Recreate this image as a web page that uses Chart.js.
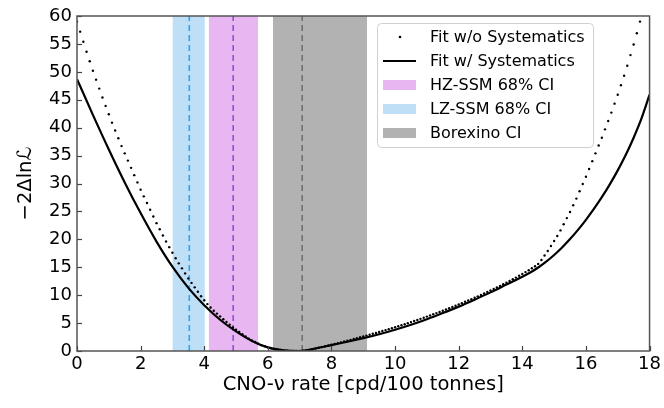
<!DOCTYPE html>
<html>
<head>
<meta charset="utf-8">
<script src="https://cdn.jsdelivr.net/npm/chart.js@4.4.0/dist/chart.umd.min.js"></script>
<style>
  html, body { margin: 0; padding: 0; background: #fff; }
  #wrap { width: 664px; height: 408px; position: relative; }
</style>
</head>
<body>
<div id="wrap"><canvas id="chart" width="664" height="408"></canvas></div>
<script>
// Fit w/o systematics: dots every 0.1 in rate
const noSystX = [
  0.0, 0.1, 0.2, 0.3, 0.4, 0.5, 0.6, 0.7, 0.8, 0.9,
  1.0, 1.1, 1.2, 1.3, 1.4, 1.5, 1.6, 1.7, 1.8, 1.9,
  2.0, 2.1, 2.2, 2.3, 2.4, 2.5, 2.6, 2.7, 2.8, 2.9,
  3.0, 3.1, 3.2, 3.3, 3.4, 3.5, 3.6, 3.7, 3.8, 3.9,
  4.0, 4.1, 4.2, 4.3, 4.4, 4.5, 4.6, 4.7, 4.8, 4.9,
  5.0, 5.1, 5.2, 5.3, 5.4, 5.5, 5.6, 5.7, 5.8, 5.9,
  6.0, 6.1, 6.2, 6.3, 6.4, 6.5, 6.6, 6.7, 6.8, 6.9,
  7.0, 7.1, 7.2, 7.3, 7.4, 7.5, 7.6, 7.7, 7.8, 7.9,
  8.0, 8.1, 8.2, 8.3, 8.4, 8.5, 8.6, 8.7, 8.8, 8.9,
  9.0, 9.1, 9.2, 9.3, 9.4, 9.5, 9.6, 9.7, 9.8, 9.9,
  10.0, 10.1, 10.2, 10.3, 10.4, 10.5, 10.6, 10.7, 10.8, 10.9,
  11.0, 11.1, 11.2, 11.3, 11.4, 11.5, 11.6, 11.7, 11.8, 11.9,
  12.0, 12.1, 12.2, 12.3, 12.4, 12.5, 12.6, 12.7, 12.8, 12.9,
  13.0, 13.1, 13.2, 13.3, 13.4, 13.5, 13.6, 13.7, 13.8, 13.9,
  14.0, 14.1, 14.2, 14.3, 14.4, 14.5, 14.6, 14.7, 14.8, 14.9,
  15.0, 15.1, 15.2, 15.3, 15.4, 15.5, 15.6, 15.7, 15.8, 15.9,
  16.0, 16.1, 16.2, 16.3, 16.4, 16.5, 16.6, 16.7, 16.8, 16.9,
  17.0, 17.1, 17.2, 17.3, 17.4, 17.5, 17.6, 17.7
];
const noSystY = [
  59.0, 57.2, 55.4, 53.6, 51.9, 50.2, 48.6, 47.0, 45.4, 43.9,
  42.4, 40.9, 39.5, 38.1, 36.7, 35.4, 34.1, 32.8, 31.5, 30.2,
  28.9, 27.7, 26.5, 25.3, 24.1, 22.9, 21.8, 20.7, 19.6, 18.6,
  17.6, 16.6, 15.7, 14.8, 13.9, 13.0, 12.2, 11.4, 10.6, 9.8,
  9.1, 8.4, 7.8, 7.2, 6.7, 6.2, 5.7, 5.2, 4.7, 4.2,
  3.8, 3.4, 3.0, 2.6, 2.2, 1.9, 1.6, 1.3, 1.05, 0.85,
  0.65, 0.5, 0.38, 0.27, 0.18, 0.11, 0.06, 0.03, 0.01, 0.0,
  0.01, 0.05, 0.12, 0.21, 0.32, 0.44, 0.57, 0.71, 0.85, 0.99,
  1.13, 1.27, 1.41, 1.55, 1.7, 1.85, 2.0, 2.15, 2.3, 2.45,
  2.6, 2.76, 2.92, 3.08, 3.24, 3.4, 3.57, 3.74, 3.91, 4.08,
  4.26, 4.44, 4.62, 4.8, 4.99, 5.18, 5.37, 5.56, 5.76, 5.96,
  6.16, 6.37, 6.58, 6.79, 7.0, 7.22, 7.44, 7.66, 7.88, 8.11,
  8.34, 8.57, 8.81, 9.05, 9.29, 9.54, 9.79, 10.04, 10.3, 10.56,
  10.83, 11.1, 11.38, 11.66, 11.95, 12.24, 12.54, 12.84, 13.15, 13.47,
  13.8, 14.13, 14.47, 14.82, 15.18, 15.6, 16.3, 17.1, 17.9, 18.8,
  19.7, 20.6, 21.6, 22.7, 23.8, 24.9, 26.1, 27.3, 28.6, 29.9,
  31.2, 32.6, 34.0, 35.4, 36.8, 38.2, 39.7, 41.2, 42.7, 44.3,
  45.9, 47.6, 49.3, 51.1, 53.0, 54.9, 56.9, 59.0
];

// Fit w/ systematics
const withSystX = [0, 0.5, 1, 1.5, 2, 2.5, 3, 3.5, 4, 4.5, 5, 5.5, 6, 6.5, 7, 7.5, 8, 8.5, 9,
  9.5, 10, 10.5, 11, 11.5, 12, 12.5, 13, 13.5, 14, 14.25, 14.5, 14.75, 15, 15.25, 15.5, 15.75,
  16, 16.25, 16.5, 16.75, 17, 17.25, 17.5, 17.75, 18];
const withSystY = [48.7, 42.3, 36.1, 30.2, 24.7, 19.6, 15.1, 11.3, 8.2, 5.6, 3.5, 1.8, 0.65, 0.1, 0.0, 0.45, 1.05, 1.65, 2.3,
  3.0, 3.8, 4.7, 5.7, 6.8, 7.95, 9.2, 10.5, 11.9, 13.3, 14.05, 14.95, 16.0, 17.2, 18.55, 20.05, 21.7,
  23.5, 25.45, 27.55, 29.85, 32.35, 35.1, 38.2, 41.7, 45.9];

// confidence intervals: [low, high], centre
const ciLabels = ['HZ-SSM 68% CI', 'LZ-SSM 68% CI', 'Borexino CI'];
const ciLow = [4.14, 3.0, 6.16];
const ciHigh = [5.69, 4.02, 9.12];
const ciCentre = [4.91, 3.53, 7.08];
const ciFill = ['#e8b6f1', '#bfdff7', '#b2b2b2'];
const ciDash = ['#9a4cd8', '#2ea6f4', '#707070'];

const xTicks = [0, 2, 4, 6, 8, 10, 12, 14, 16, 18];
const yTicks = [0, 5, 10, 15, 20, 25, 30, 35, 40, 45, 50, 55, 60];

const FONT = "'DejaVu Sans', sans-serif";

const datasets = [
  {
    label: 'Fit w/o Systematics',
    data: noSystX.map((x, i) => ({ x: x, y: noSystY[i] })),
    showLine: false,
    pointRadius: 1.2,
    pointBackgroundColor: '#000',
    pointBorderWidth: 0,
    order: 0
  },
  {
    label: 'Fit w/ Systematics',
    data: withSystX.map((x, i) => ({ x: x, y: withSystY[i] })),
    showLine: true,
    borderColor: '#000',
    borderWidth: 2.2,
    pointRadius: 0,
    cubicInterpolationMode: 'monotone',
    order: 0
  }
];

ciLabels.forEach((lab, i) => {
  datasets.push({
    label: lab,
    data: [{ x: ciLow[i], y: 60 }, { x: ciHigh[i], y: 60 }],
    showLine: true,
    borderWidth: 0,
    pointRadius: 0,
    backgroundColor: ciFill[i],
    fill: 'origin',
    order: 3
  });
  datasets.push({
    label: lab + ' centre',
    data: [{ x: ciCentre[i], y: 0 }, { x: ciCentre[i], y: 60 }],
    showLine: true,
    borderColor: ciDash[i],
    borderWidth: 1.6,
    borderDash: [6, 4],
    pointRadius: 0,
    order: 2
  });
});

// inward tick marks + frame like matplotlib
const frameTicks = {
  id: 'frameTicks',
  afterDatasetsDraw(chart) {
    const { ctx, chartArea: a, scales } = chart;
    ctx.save();
    ctx.strokeStyle = '#444';
    ctx.lineWidth = 1.2;
    xTicks.forEach(v => {
      const px = Math.round(scales.x.getPixelForValue(v)) + 0.5;
      ctx.beginPath(); ctx.moveTo(px, a.bottom); ctx.lineTo(px, a.bottom - 5); ctx.stroke();
    });
    yTicks.forEach(v => {
      const py = Math.round(scales.y.getPixelForValue(v)) + 0.5;
      ctx.beginPath(); ctx.moveTo(a.left, py); ctx.lineTo(a.left + 5, py); ctx.stroke();
    });
    ctx.lineWidth = 1.5;
    ctx.strokeStyle = '#555';
    ctx.strokeRect(a.left, a.top, a.right - a.left, a.bottom - a.top);
    ctx.restore();
  }
};

// legend box inside the axes (upper right)
const boxLegend = {
  id: 'boxLegend',
  afterDraw(chart) {
    const { ctx } = chart;
    const bx = 377.5, by = 23.5, bw = 216, bh = 124;
    ctx.save();
    ctx.fillStyle = 'rgba(255,255,255,0.85)';
    ctx.strokeStyle = '#d0d0d0';
    ctx.lineWidth = 1;
    ctx.beginPath();
    ctx.roundRect(bx, by, bw, bh, 4);
    ctx.fill(); ctx.stroke();
    const items = [
      { text: 'Fit w/o Systematics', kind: 'dot' },
      { text: 'Fit w/ Systematics', kind: 'line' },
      { text: ciLabels[0], kind: 'rect', color: ciFill[0] },
      { text: ciLabels[1], kind: 'rect', color: ciFill[1] },
      { text: ciLabels[2], kind: 'rect', color: ciFill[2] }
    ];
    ctx.font = '16px ' + FONT;
    ctx.textBaseline = 'middle';
    items.forEach((it, i) => {
      const cy = 37 + i * 24;
      if (it.kind === 'dot') {
        ctx.fillStyle = '#000';
        ctx.beginPath(); ctx.arc(400, cy, 1.3, 0, Math.PI * 2); ctx.fill();
      } else if (it.kind === 'line') {
        ctx.strokeStyle = '#000'; ctx.lineWidth = 2.2;
        ctx.beginPath(); ctx.moveTo(383, cy); ctx.lineTo(416, cy); ctx.stroke();
      } else {
        ctx.fillStyle = it.color;
        ctx.fillRect(383, cy - 5, 33, 10);
      }
      ctx.fillStyle = '#000';
      ctx.fillText(it.text, 430, cy + 1);
    });
    ctx.restore();
  }
};

new Chart(document.getElementById('chart').getContext('2d'), {
  type: 'scatter',
  data: { datasets: datasets },
  options: {
    responsive: false,
    animation: false,
    devicePixelRatio: 1,
    layout: { padding: { top: 16, right: 12, left: 0, bottom: 0 } },
    plugins: {
      legend: { display: false },
      tooltip: { enabled: false }
    },
    scales: {
      x: {
        type: 'linear',
        min: 0,
        max: 18,
        afterFit: s => { s.height = 57; },
        afterBuildTicks: s => { s.ticks = xTicks.map(v => ({ value: v })); },
        grid: { display: false, drawTicks: false },
        border: { display: false },
        ticks: { color: '#000', padding: 3, font: { family: FONT, size: 18 }, maxRotation: 0 },
        title: {
          display: true,
          text: 'CNO-ν rate [cpd/100 tonnes]',
          color: '#000',
          font: { family: FONT, size: 19.5 },
          padding: { top: 0, bottom: 11 }
        }
      },
      y: {
        type: 'linear',
        min: 0,
        max: 60,
        afterFit: s => { s.width = 77; },
        afterBuildTicks: s => { s.ticks = yTicks.map(v => ({ value: v })); },
        grid: { display: false, drawTicks: false },
        border: { display: false },
        ticks: { color: '#000', padding: 5, font: { family: FONT, size: 18 } },
        title: {
          display: true,
          text: '−2Δlnℒ',
          color: '#000',
          font: { family: FONT, size: 19.5 },
          padding: { top: 14, bottom: 0 }
        }
      }
    }
  },
  plugins: [frameTicks, boxLegend]
});
</script>
</body>
</html>
